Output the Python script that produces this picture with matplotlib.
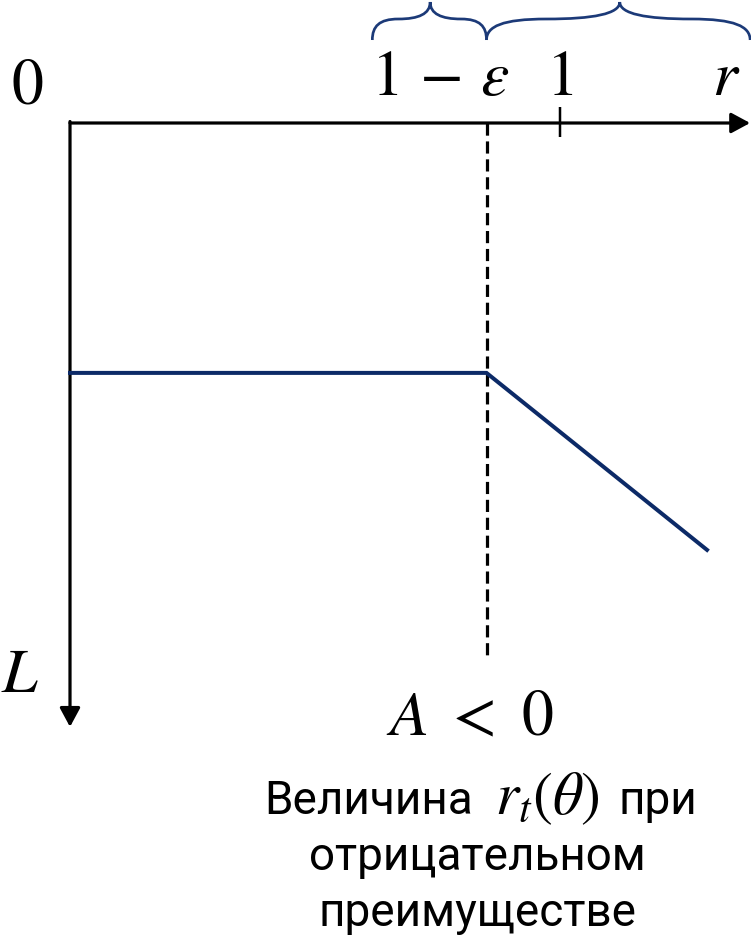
import matplotlib
matplotlib.use("Agg")
import matplotlib.pyplot as plt
from matplotlib.path import Path
from matplotlib.patches import PathPatch, FancyArrowPatch

plt.rcParams['mathtext.fontset'] = 'stix'
plt.rcParams['font.family'] = ['Roboto', 'DejaVu Sans']

# ---- data ----
eps = 0.15
r_curve = [0.0, 1 - eps, 1.30]          # ratio r
L_curve = [0.85, 0.85, 1.452]           # objective (axis points down)
r_tick = [1.0]
r_axis_max = 1.388
L_axis_max = 2.054
dash_L_max = 1.81
brace_spans = [(0.617, 1 - eps), (1 - eps, 1.388)]
brace_peaks = [0.735, 1.122]
caption_line1 = ['Величина', '$r_t(\\theta)$', 'при']
caption_lines = ['отрицательном', 'преимуществе']

COL_LINE = "#0c2a67"
COL_BRACE = "#1c3a78"

W, H = 751, 938
fig = plt.figure(figsize=(W / 100, H / 100), dpi=100)
ax = fig.add_axes([0, 0, 1, 1])
px = 490.0   # pixels per r unit
py = 294.0   # pixels per L unit
ax.set_xlim(-70 / px, (W - 70) / px)
ax.set_ylim((H - 123) / py, -123 / py)
ax.axis('off')

def lw(p):
    return p * 0.72

def X(pix):
    return (pix - 70) / px

def Y(pix):
    return (pix - 123) / py

style = '-|>,head_length=1.15,head_width=0.62'
ax.add_patch(FancyArrowPatch((0, 0), (r_axis_max, 0), arrowstyle=style,
                             mutation_scale=10, lw=lw(3.2), color='black', shrinkA=0, shrinkB=0))
ax.add_patch(FancyArrowPatch((0, -0.005), (0, L_axis_max), arrowstyle=style,
                             mutation_scale=10, lw=lw(3.2), color='black', shrinkA=0, shrinkB=0))

# tick at r = 1
for t in r_tick:
    ax.plot([t, t], [Y(107), Y(137)], color='black', lw=lw(2.5), solid_capstyle='butt')

# dashed line at 1-eps
ax.plot([1 - eps, 1 - eps], [0, dash_L_max], color='black', lw=lw(3.2), ls=(0, (3.8, 1.8)))

# curve
ax.plot(r_curve, L_curve, color=COL_LINE, lw=lw(4), solid_joinstyle='miter')

# braces
yb, ym, yt = Y(40), Y(19), Y(2)
for (x0, x1), xm in zip(brace_spans, brace_peaks):
    wl = xm - x0
    wr = x1 - xm
    ql = x0 + 0.45 * wl
    qr = xm + 0.55 * wr
    verts = [(x0, yb),
             (x0, ym + 0.35 * (yb - ym)), (x0 + 0.12 * wl, ym), (ql, ym),
             (xm - 0.2 * wl, ym), (xm, ym - 0.3 * (ym - yt)), (xm, yt),
             (xm, ym - 0.3 * (ym - yt)), (xm + 0.2 * wr, ym), (qr, ym),
             (x1 - 0.12 * wr, ym), (x1, ym + 0.35 * (yb - ym)), (x1, yb)]
    codes = [Path.MOVETO] + [Path.CURVE4] * 12
    ax.add_patch(PathPatch(Path(verts, codes), fill=False, edgecolor=COL_BRACE, lw=lw(2.7)))

# labels
fs = 46
ax.text(X(27), Y(104), r'$0$', fontsize=fs, ha='center', va='baseline')
ax.text(X(440), Y(95), r'$1\,-\,\varepsilon$', fontsize=fs, ha='center', va='baseline')
ax.text(1.0, Y(95), r'$1$', fontsize=fs, ha='center', va='baseline')
ax.text(X(726), Y(95), r'$r$', fontsize=fs, ha='center', va='baseline')
ax.text(X(20), Y(692), r'$L$', fontsize=fs, ha='center', va='baseline')
ax.text(X(470), Y(735), r'$A\ <\ 0$', fontsize=fs, ha='center', va='baseline')

# caption
cfs = 33
ax.text(X(473), Y(814), caption_line1[0], fontsize=cfs, ha='right', va='baseline')
ax.text(X(547), Y(814), caption_line1[1], fontsize=cfs * 1.3, ha='center', va='baseline')
ax.text(X(618), Y(814), caption_line1[2], fontsize=cfs, ha='left', va='baseline')
for s, cx, cb in zip(caption_lines, [477, 477], [870, 926]):
    ax.text(X(cx), Y(cb), s, fontsize=cfs, ha='center', va='baseline')

fig.savefig('out.png', dpi=100)
